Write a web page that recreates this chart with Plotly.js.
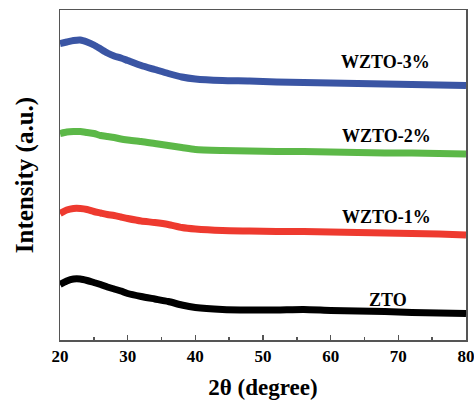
<!DOCTYPE html>
<html>
<head>
<meta charset="utf-8">
<script src="https://cdn.plot.ly/plotly-3.0.1.min.js"></script>
<style>html,body{margin:0;padding:0;background:#fff;}#chart{width:474px;height:402px;}</style>
</head>
<body>
<div id="chart"></div>
<script>
// 2θ positions (degree)
const twoTheta = [20,21,22,23,24,25,26,27,28,29,30,32,34,36,38,40,44,48,52,56,60,64,68,72,76,80];

// Intensities (a.u., curves offset vertically as in the figure)
const ZTO    = [55.5,59,61,61,59.5,57.5,55.5,53,51,49,46.5,43.5,41,38.5,35,32.5,30.5,30,30,30.5,29.5,29,28.5,27.5,27,26.5];
const WZTO1  = [126.5,130,131.5,131.5,130.5,128.5,127,125.5,124.5,123,121.5,119,117.5,115.5,112.5,111,109.5,109,108.5,108.5,108,107.5,107,106.5,106,105];
const WZTO2  = [206.5,208,208.5,208.5,207.5,206.5,204.5,203.5,202.5,201,200,198.5,196.5,194.5,192.5,190.5,189.5,189,188.5,188.5,188,187.5,187,187,186.5,186];
const WZTO3  = [296.5,298,299.5,300,298,295,291,287,284,282,279.5,274.5,270.5,266.5,263,261,259.5,259,258,257.5,257,256.5,256,255.5,255,254.5];

const seriesNames  = ['ZTO','WZTO-1%','WZTO-2%','WZTO-3%'];
const seriesValues = [ZTO, WZTO1, WZTO2, WZTO3];
const seriesColors = ['#000000','#ee3a2f','#5cb848','#3a55a4'];

// label anchor positions (data coords)
const labelX = [68.4, 68.3, 68.2, 68.1];
const labelY = [40, 123, 204, 278];

const traces = seriesValues.map((v,i)=>({
  x: twoTheta, y: v, type:'scatter', mode:'lines', name: seriesNames[i],
  line:{color: seriesColors[i], width:7, shape:'spline', smoothing:0.6},
  showlegend:false, hoverinfo:'skip'
}));

const font = "Times New Roman, 'Liberation Serif', 'DejaVu Serif', serif";
const annotations = seriesNames.map((n,i)=>({
  x: labelX[i], y: labelY[i], xref:'x', yref:'y', text: n, showarrow:false,
  font:{family:font, size:18, color:'#000', weight:'bold'}, xanchor:'center', yanchor:'middle'
}));

const layout = {
  width:474, height:402,
  margin:{l:60, r:8, t:10, b:62},
  paper_bgcolor:'#fff', plot_bgcolor:'#fff',
  showlegend:false,
  font:{family:font, color:'#000'},
  xaxis:{
    range:[20,80], dtick:10, tick0:20,
    ticks:'inside', ticklen:5, tickwidth:1.5, tickcolor:'#555',
    minor:{ticks:'inside', dtick:5, ticklen:3, tickwidth:1.5, tickcolor:'#555'},
    showline:true, mirror:true, linecolor:'#555', linewidth:1.5,
    showgrid:false, zeroline:false,
    ticklabeloverflow:'allow',
    tickfont:{family:font, size:17, color:'#000', weight:'bold'},
    title:{text:'2θ (degree)', font:{family:font, size:23, color:'#000', weight:'bold'}, standoff:14}
  },
  yaxis:{
    range:[0,330], showticklabels:false, ticks:'',
    showline:true, mirror:true, linecolor:'#555', linewidth:1.5,
    showgrid:false, zeroline:false,
    title:{text:'Intensity (a.u.)', font:{family:font, size:25, color:'#000', weight:'bold'}, standoff:18}
  },
  annotations: annotations
};

Plotly.newPlot('chart', traces, layout, {staticPlot:true, displayModeBar:false});
</script>
</body>
</html>
